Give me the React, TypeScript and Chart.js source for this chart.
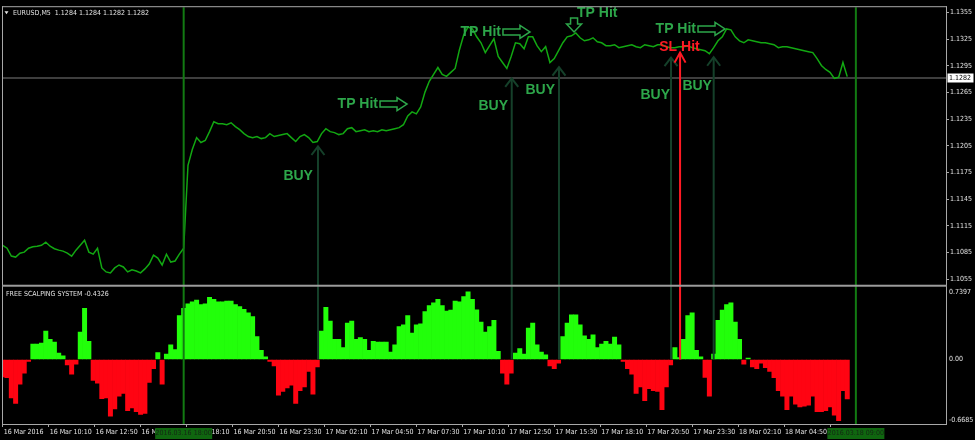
import React, { useEffect, useRef } from "react";
import { Chart, registerables } from "chart.js";

Chart.register(...registerables);

// ---------- header / status ----------
const SYMBOL = "EURUSD,M5";
const HEADER_PRICES = [1.1284, 1.1284, 1.1282, 1.1282];
const CURRENT_PRICE = 1.1282;
const INDICATOR_NAME = "FREE SCALPING SYSTEM";
const INDICATOR_VALUE = -0.4326;

// one sample every 3 M5 bars (15 minutes), starting 16 Mar 2016 07:30
const BARS_PER_SAMPLE = 3;

// ---------- price (close) ----------
const priceClose = [
  1.10933, 1.10900, 1.10811, 1.10800, 1.10844, 1.10856, 1.10900, 1.10917, 1.10922, 1.10933,
  1.10967, 1.10922, 1.10894, 1.10878, 1.10867, 1.10844, 1.10811, 1.10878, 1.10933, 1.10989,
  1.10856, 1.10833, 1.10900, 1.10678, 1.10633, 1.10622, 1.10678, 1.10711, 1.10689, 1.10633,
  1.10656, 1.10644, 1.10622, 1.10667, 1.10722, 1.10822, 1.10789, 1.10711, 1.10833, 1.10744,
  1.10756, 1.10833, 1.10900, 1.11833, 1.12011, 1.12144, 1.12089, 1.12111, 1.12211, 1.12322,
  1.12300, 1.12300, 1.12289, 1.12311, 1.12267, 1.12233, 1.12189, 1.12156, 1.12144, 1.12156,
  1.12133, 1.12144, 1.12189, 1.12156, 1.12167, 1.12178, 1.12189, 1.12144, 1.12100, 1.12156,
  1.12178, 1.12144, 1.12089, 1.12100, 1.12189, 1.12244, 1.12211, 1.12200, 1.12178, 1.12189,
  1.12244, 1.12256, 1.12211, 1.12222, 1.12233, 1.12211, 1.12222, 1.12211, 1.12233, 1.12222,
  1.12233, 1.12244, 1.12256, 1.12289, 1.12389, 1.12433, 1.12411, 1.12489, 1.12656, 1.12778,
  1.12856, 1.12933, 1.12856, 1.12833, 1.12878, 1.12922, 1.13133, 1.13300, 1.13389, 1.13367,
  1.13278, 1.13211, 1.13100, 1.13178, 1.13256, 1.13056, 1.12989, 1.12922, 1.13056, 1.13211,
  1.13200, 1.13144, 1.13278, 1.13278, 1.13178, 1.13111, 1.13167, 1.12989, 1.13033, 1.13122,
  1.13211, 1.13278, 1.13289, 1.13322, 1.13267, 1.13233, 1.13244, 1.13267, 1.13222, 1.13211,
  1.13178, 1.13178, 1.13189, 1.13156, 1.13167, 1.13178, 1.13189, 1.13167, 1.13156, 1.13189,
  1.13178, 1.13167, 1.13189, 1.13189, 1.13167, 1.13156, 1.13156, 1.13167, 1.13167, 1.13178,
  1.13156, 1.13144, 1.13133, 1.13122, 1.13089, 1.13156, 1.13233, 1.13278, 1.13367, 1.13356,
  1.13278, 1.13233, 1.13211, 1.13244, 1.13233, 1.13222, 1.13211, 1.13211, 1.13200, 1.13189,
  1.13156, 1.13167, 1.13167, 1.13156, 1.13144, 1.13133, 1.13122, 1.13111, 1.13100, 1.13033,
  1.12956, 1.12911, 1.12878, 1.12811, 1.12822, 1.12989, 1.12830,
];

// ---------- FREE SCALPING SYSTEM histogram ----------
const oscValues = [
  -0.19, -0.20, -0.42, -0.48, -0.27, -0.15, -0.02, 0.17, 0.17, 0.18,
  0.31, 0.22, 0.19, 0.07, 0.04, -0.06, -0.16, -0.05, 0.30, 0.56,
  0.20, -0.23, -0.26, -0.43, -0.42, -0.62, -0.54, -0.40, -0.37, -0.56,
  -0.53, -0.57, -0.60, -0.59, -0.25, -0.10, 0.075, -0.27, 0.06, 0.16,
  0.11, 0.48, 0.56, 0.61, 0.63, 0.65, 0.60, 0.61, 0.68, 0.66,
  0.63, 0.63, 0.64, 0.64, 0.60, 0.58, 0.55, 0.51, 0.47, 0.25,
  0.10, 0.03, -0.02, -0.07, -0.39, -0.35, -0.31, -0.28, -0.48, -0.34,
  -0.30, -0.13, -0.38, -0.08, 0.31, 0.57, 0.42, 0.22, 0.22, 0.13,
  0.40, 0.42, 0.22, 0.24, 0.22, 0.10, 0.20, 0.19, 0.19, 0.19,
  0.08, 0.16, 0.36, 0.38, 0.48, 0.29, 0.38, 0.39, 0.525, 0.59,
  0.62, 0.66, 0.59, 0.53, 0.54, 0.64, 0.63, 0.69, 0.7397, 0.66,
  0.545, 0.41, 0.30, 0.36, 0.43, 0.09, -0.15, -0.27, -0.15, 0.07,
  0.12, 0.06, 0.345, 0.40, 0.16, 0.08, 0.05, -0.07, -0.10, -0.04,
  0.25, 0.40, 0.49, 0.49, 0.38, 0.26, 0.22, 0.27, 0.13, 0.17,
  0.20, 0.17, 0.245, 0.16, -0.02, -0.10, -0.16, -0.37, -0.30, -0.45,
  -0.32, -0.34, -0.35, -0.55, -0.30, -0.06, 0.13, 0.02, 0.22, 0.48,
  0.51, 0.10, 0.03, -0.195, -0.40, 0.06, 0.43, 0.54, 0.60, 0.62,
  0.41, 0.22, -0.05, 0.015, -0.08, -0.10, -0.04, -0.09, -0.13, -0.20,
  -0.34, -0.40, -0.55, -0.40, -0.49, -0.52, -0.51, -0.50, -0.40, -0.57,
  -0.57, -0.56, -0.52, -0.61, -0.6685, -0.34, -0.4326,
];

// ---------- axes ----------
const priceTicks = [1.1055, 1.1085, 1.1115, 1.1145, 1.1175, 1.1205, 1.1235, 1.1265, 1.1295, 1.1325, 1.1355];
const oscTicks = [Math.max(...oscValues), 0, Math.min(...oscValues)];
const timeTickBars = [0, 32, 64, 96, 128, 160, 192, 224, 256, 288, 320, 352, 384, 416, 448, 480, 512, 544, 576];
const timeTickLabels = [
  "16 Mar 2016", "16 Mar 10:10", "16 Mar 12:50", "16 Mar 15:30", "16 Mar 18:10", "16 Mar 20:50",
  "16 Mar 23:30", "17 Mar 02:10", "17 Mar 04:50", "17 Mar 07:30", "17 Mar 10:10", "17 Mar 12:50",
  "17 Mar 15:30", "17 Mar 18:10", "17 Mar 20:50", "17 Mar 23:30", "18 Mar 02:10", "18 Mar 04:50",
  "18 Mar 07:30",
];

// vertical period separators
const markerBars = [126, 594];
const markerLabels = ["2016.03.16 18:00", "2016.03.18 09:00"];

// ---------- trade annotations ----------
const buyBars = [219.5, 354.4, 387.3, 465.3, 495];
const buyPrices = [1.12044, 1.12811, 1.12937, 1.13044, 1.13048];
const buyLabelBars = [216, 351.8, 384.5, 464.6, 493.8];
const buyLabelPrices = [1.11711, 1.12503, 1.12678, 1.12626, 1.12726];

const tpBars = [281.5, 367.1, 397.8, 502.9];
const tpPrices = [1.12522, 1.13333, 1.13333, 1.13367];
const tpDirections = ["right", "right", "down", "right"];

const slBars = [471.6];
const slPrices = [1.131];
const slLabelBars = [471.2];
const slLabelPrices = [1.13159];

// ---------- view ranges ----------
const X_MIN = -0.487;
const X_MAX = 656.75;
const PRICE_MIN = 1.104778;
const PRICE_MAX = 1.136111;
const OSC_MIN = -0.7059;
const OSC_MAX = 0.8076;

// ---------- styles ----------
const NARROW = "'DejaVu Sans Condensed', 'Liberation Sans Narrow', 'Liberation Sans', Arial, sans-serif";
const SANS = "'Liberation Sans', Arial, sans-serif";
const SMALL = 7;
const PRICE_COLOR = "#12a812";
const LIME = "#22ff0a";
const RED = "#ff0412";
const FRAME = "#a8a8a8";
const TEXT = "#e2e2e2";
const SIGNAL_GREEN = "#2da64a";
const BUY_LINE = "#15402a";
const SL_RED = "#ff1a24";
const MARKER_GREEN = "#127a12";

function rightArrow(ctx: any, tx: number, ty: number, len: number) {
  const head = 10;
  ctx.beginPath();
  ctx.moveTo(tx - len, ty - 3);
  ctx.lineTo(tx - head, ty - 3);
  ctx.lineTo(tx - head, ty - 6.5);
  ctx.lineTo(tx, ty);
  ctx.lineTo(tx - head, ty + 6.5);
  ctx.lineTo(tx - head, ty + 3);
  ctx.lineTo(tx - len, ty + 3);
  ctx.closePath();
  ctx.stroke();
}

function downArrow(ctx: any, tx: number, ty: number, len: number) {
  const head = 8;
  ctx.beginPath();
  ctx.moveTo(tx - 3.5, ty - len);
  ctx.lineTo(tx + 3.5, ty - len);
  ctx.lineTo(tx + 3.5, ty - head);
  ctx.lineTo(tx + 7.5, ty - head);
  ctx.lineTo(tx, ty);
  ctx.lineTo(tx - 7.5, ty - head);
  ctx.lineTo(tx - 3.5, ty - head);
  ctx.closePath();
  ctx.stroke();
}

function chevron(ctx: any, x: number, y: number, w: number, h: number) {
  ctx.beginPath();
  ctx.moveTo(x - w, y + h);
  ctx.lineTo(x, y);
  ctx.lineTo(x + w, y + h);
  ctx.stroke();
}

const overlayPlugin = {
  id: "mt4Overlay",
  beforeDraw(chart: any) {
    const { ctx, width, height } = chart;
    ctx.save();
    ctx.fillStyle = "#000000";
    ctx.fillRect(0, 0, width, height);
    ctx.restore();
  },
  beforeDatasetsDraw(chart: any) {
    const { ctx, chartArea: ca } = chart;
    const py = chart.scales.y.getPixelForValue(CURRENT_PRICE);
    ctx.save();
    ctx.fillStyle = "#7c7c7c";
    ctx.fillRect(ca.left, Math.round(py) - 0.5, ca.right - ca.left, 1);
    ctx.restore();
  },
  afterDatasetsDraw(chart: any) {
    const { ctx, chartArea: ca } = chart;
    const xs = chart.scales.x;
    const ys = chart.scales.y;
    const y2 = chart.scales.y2;
    const zeroY = y2.getPixelForValue(0);
    ctx.save();

    // period separators
    ctx.strokeStyle = MARKER_GREEN;
    ctx.lineWidth = 2;
    markerBars.forEach((b) => {
      const x = xs.getPixelForValue(b);
      ctx.beginPath();
      ctx.moveTo(x, ca.top);
      ctx.lineTo(x, ca.bottom);
      ctx.stroke();
    });

    // BUY signal lines
    ctx.strokeStyle = BUY_LINE;
    ctx.lineWidth = 2;
    buyBars.forEach((b, i) => {
      const x = xs.getPixelForValue(b);
      const y = ys.getPixelForValue(buyPrices[i]);
      ctx.beginPath();
      ctx.moveTo(x, zeroY);
      ctx.lineTo(x, y);
      ctx.stroke();
      chevron(ctx, x, y, 6.5, 8.5);
    });

    // SL line
    ctx.strokeStyle = SL_RED;
    slBars.forEach((b, i) => {
      const x = xs.getPixelForValue(b);
      const y = ys.getPixelForValue(slPrices[i]);
      ctx.beginPath();
      ctx.moveTo(x, zeroY);
      ctx.lineTo(x, y);
      ctx.stroke();
      chevron(ctx, x, y, 5.5, 10);
    });

    // texts
    ctx.font = `bold 14px ${SANS}`;
    ctx.textBaseline = "middle";
    ctx.fillStyle = SIGNAL_GREEN;
    ctx.textAlign = "right";
    buyLabelBars.forEach((b, i) => {
      ctx.fillText("BUY", xs.getPixelForValue(b), ys.getPixelForValue(buyLabelPrices[i]));
    });

    ctx.strokeStyle = SIGNAL_GREEN;
    ctx.lineWidth = 1.5;
    tpBars.forEach((b, i) => {
      const tx = xs.getPixelForValue(b);
      const ty = ys.getPixelForValue(tpPrices[i]);
      if (tpDirections[i] === "down") {
        downArrow(ctx, tx, ty, 14);
        ctx.textAlign = "left";
        ctx.fillText("TP Hit", tx + 3, ty - 18.5);
      } else {
        rightArrow(ctx, tx, ty, 27);
        ctx.textAlign = "right";
        ctx.fillText("TP Hit", tx - 29, ty);
      }
    });

    ctx.fillStyle = SL_RED;
    ctx.textAlign = "center";
    slLabelBars.forEach((b, i) => {
      ctx.fillText("SL Hit", xs.getPixelForValue(b), ys.getPixelForValue(slLabelPrices[i]));
    });

    // frames
    ctx.fillStyle = FRAME;
    const w = ca.right - ca.left;
    ctx.fillRect(ca.left, ca.top - 1, w + 1, 1);
    ctx.fillRect(ca.left, ca.top - 1, 1, ca.bottom - ca.top + 2);
    ctx.fillRect(ca.right, ca.top - 1, 1, ca.bottom - ca.top + 2);
    ctx.fillRect(ca.left, ca.bottom, w + 1, 1);
    ctx.fillStyle = "#9c9c9c";
    ctx.fillRect(ca.left, ys.bottom - 1, w + 1, 2);
    ctx.restore();
  },
  afterDraw(chart: any) {
    const { ctx, chartArea: ca } = chart;
    const xs = chart.scales.x;
    const ys = chart.scales.y;
    const y2 = chart.scales.y2;
    ctx.save();

    // period boxes on the time axis
    ctx.font = `${SMALL}px ${NARROW}`;
    ctx.textAlign = "center";
    ctx.textBaseline = "middle";
    markerBars.forEach((b, i) => {
      const x = xs.getPixelForValue(b);
      ctx.fillStyle = "#0f660f";
      ctx.fillRect(x - 28.5, ca.bottom + 4, 57, 11);
      ctx.fillStyle = "#142814";
      ctx.fillText(markerLabels[i], x, ca.bottom + 9.5);
    });

    // current price box
    const py = Math.round(ys.getPixelForValue(CURRENT_PRICE));
    ctx.fillStyle = "#ffffff";
    ctx.fillRect(ca.right + 1.5, py - 4.5, 26, 9);
    ctx.fillStyle = "#000000";
    ctx.textAlign = "left";
    ctx.fillText(CURRENT_PRICE.toFixed(4), ca.right + 3, py);

    // header
    ctx.fillStyle = "#e6e6e6";
    ctx.beginPath();
    ctx.moveTo(ca.left + 2.5, ca.top + 4);
    ctx.lineTo(ca.left + 6.5, ca.top + 4);
    ctx.lineTo(ca.left + 4.5, ca.top + 7);
    ctx.closePath();
    ctx.fill();
    ctx.fillStyle = TEXT;
    ctx.fillText(
      `${SYMBOL}  ${HEADER_PRICES.map((p) => p.toFixed(4)).join(" ")}`,
      ca.left + 11,
      ca.top + 5.5
    );

    // indicator caption
    ctx.fillText(`${INDICATOR_NAME} ${INDICATOR_VALUE.toFixed(4)}`, ca.left + 4, y2.top + 8);
    ctx.restore();
  },
};

export default function App() {
  const ref = useRef<HTMLCanvasElement | null>(null);

  useEffect(() => {
    if (!ref.current) return;
    const chart = new Chart(ref.current, {
      type: "bar",
      data: {
        datasets: [
          {
            type: "line",
            label: "EURUSD,M5",
            xAxisID: "x",
            yAxisID: "y",
            data: priceClose.map((v, i) => ({ x: i * BARS_PER_SAMPLE, y: v })),
            borderColor: PRICE_COLOR,
            borderWidth: 1.5,
            pointRadius: 0,
            tension: 0,
            order: 0,
          } as any,
          {
            type: "bar",
            label: INDICATOR_NAME,
            xAxisID: "x",
            yAxisID: "y2",
            data: oscValues.map((v, i) => ({ x: i * BARS_PER_SAMPLE, y: v })),
            backgroundColor: (c: any) => ((c.raw && c.raw.y >= 0) ? LIME : RED),
            borderWidth: 0,
            barPercentage: 1,
            categoryPercentage: 1,
            order: 1,
          } as any,
        ],
      },
      options: {
        responsive: false,
        maintainAspectRatio: false,
        animation: false,
        events: [],
        layout: { padding: { left: 2, top: 2, right: 0, bottom: 0 } },
        plugins: {
          legend: { display: false },
          tooltip: { enabled: false },
          title: { display: false },
        },
        scales: {
          x: {
            type: "linear",
            position: "bottom",
            min: X_MIN,
            max: X_MAX,
            offset: false,
            afterBuildTicks: (s: any) => {
              s.ticks = timeTickBars.map((v) => ({ value: v }));
            },
            afterFit: (s: any) => {
              s.height = 16;
            },
            grid: { drawOnChartArea: false, drawTicks: true, tickLength: 3, color: FRAME, offset: false },
            border: { display: false },
            ticks: {
              autoSkip: false,
              maxRotation: 0,
              minRotation: 0,
              align: "start",
              padding: 1,
              labelOffset: 1,
              color: TEXT,
              font: { family: NARROW, size: SMALL },
              callback: (_v: any, i: number) => timeTickLabels[i],
            },
          },
          y: {
            type: "linear",
            position: "right",
            stack: "panes",
            stackWeight: 282,
            min: PRICE_MIN,
            max: PRICE_MAX,
            afterBuildTicks: (s: any) => {
              s.ticks = priceTicks.map((v) => ({ value: v }));
            },
            afterFit: (s: any) => {
              s.width = 29;
            },
            grid: { drawOnChartArea: false, drawTicks: true, tickLength: 3, color: FRAME },
            border: { display: false },
            ticks: {
              padding: 1,
              color: TEXT,
              font: { family: NARROW, size: SMALL },
              callback: (v: any) => Number(v).toFixed(4),
            },
          },
          y2: {
            type: "linear",
            position: "right",
            stack: "panes",
            stackWeight: 140,
            min: OSC_MIN,
            max: OSC_MAX,
            afterBuildTicks: (s: any) => {
              s.ticks = oscTicks.map((v) => ({ value: v }));
            },
            afterFit: (s: any) => {
              s.width = 29;
            },
            grid: { drawOnChartArea: false, drawTicks: false },
            border: { display: false },
            ticks: {
              padding: 3,
              color: TEXT,
              font: { family: NARROW, size: SMALL },
              callback: (v: any) => (Number(v) === 0 ? "0.00" : Number(v).toFixed(4)),
            },
          },
        } as any,
      },
      plugins: [overlayPlugin],
    });
    return () => chart.destroy();
  }, []);

  return (
    <div style={{ position: "fixed", left: 0, top: 0, width: 975, height: 440, background: "#000" }}>
      <canvas ref={ref} width={975} height={440} style={{ display: "block", width: 975, height: 440 }} />
    </div>
  );
}
